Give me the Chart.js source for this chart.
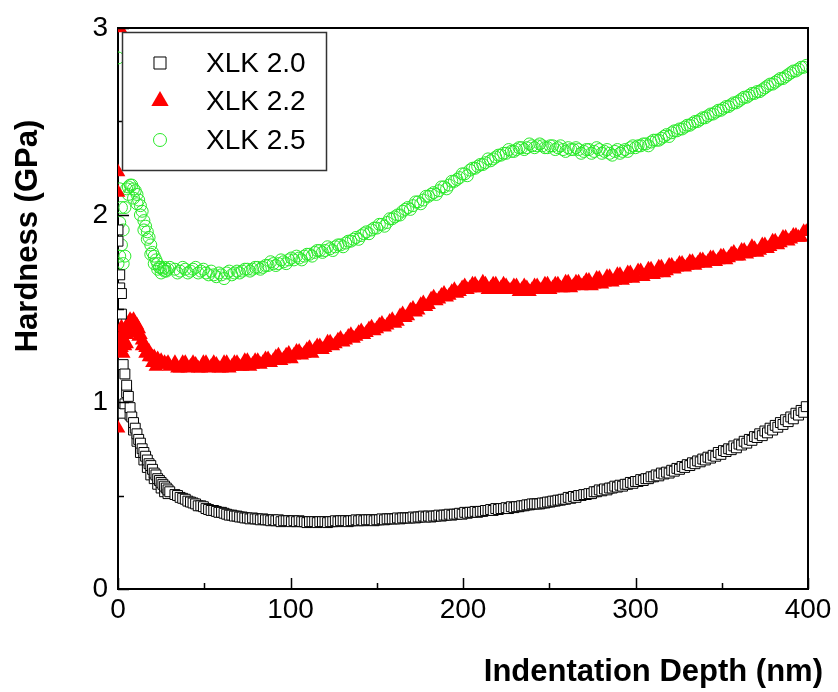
<!DOCTYPE html>
<html>
<head>
<meta charset="utf-8">
<script src="https://cdn.jsdelivr.net/npm/chart.js@4/dist/chart.umd.min.js"></script>
<style>
html,body{margin:0;padding:0;background:#fff;}
canvas{display:block;}
</style>
</head>
<body>
<canvas id="c" width="838" height="692"></canvas>
<script>
// ---- DATA ----
const seriesNames = ["XLK 2.0", "XLK 2.2", "XLK 2.5"];
const xTicks = [0, 100, 200, 300, 400];
const yTicks = [0, 1, 2, 3];

// Indentation depth (nm), main grid
const depth = [
  0,1,2,3,4,5,6,7,8,9,10,11,12,13,14,15,16,17,18,19,20,21,22,23,24,25,26,27,28,29,30,
  33,36,39,42,45,48,51,54,57,60,
  63,66,69,72,75,78,81,84,87,90,
  93,96,99,102,105,108,111,114,117,120,
  123,126,129,132,135,138,141,144,147,150,
  153,156,159,162,165,168,171,174,177,180,
  183,186,189,192,195,198,201,204,207,210,
  213,216,219,222,225,228,231,234,237,240,
  243,246,249,252,255,258,261,264,267,270,
  273,276,279,282,285,288,291,294,297,300,
  303,306,309,312,315,318,321,324,327,330,
  333,336,339,342,345,348,351,354,357,360,
  363,366,369,372,375,378,381,384,387,390,
  393,396,399
];
// Indentation depth (nm), in-between readings
const depthMid = [
  34.5,37.5,40.5,43.5,46.5,49.5,52.5,55.5,58.5,61.5,
  64.5,67.5,70.5,73.5,76.5,79.5,82.5,85.5,88.5,91.5,
  94.5,97.5,100.5,103.5,106.5,109.5,112.5,115.5,118.5,121.5,
  124.5,127.5,130.5,133.5,136.5,139.5,142.5,145.5,148.5,151.5,
  154.5,157.5,160.5,163.5,166.5,169.5,172.5,175.5,178.5,181.5,
  184.5,187.5,190.5,193.5,196.5,199.5,202.5,205.5,208.5,211.5,
  214.5,217.5,220.5,223.5,226.5,229.5,232.5,235.5,238.5,241.5,
  244.5,247.5,250.5,253.5,256.5,259.5,262.5,265.5,268.5,271.5,
  274.5,277.5,280.5,283.5,286.5,289.5,292.5,295.5,298.5,301.5,
  304.5,307.5,310.5,313.5,316.5,319.5,322.5,325.5,328.5,331.5,
  334.5,337.5,340.5,343.5,346.5,349.5,352.5,355.5,358.5,361.5,
  364.5,367.5,370.5,373.5,376.5,379.5,382.5,385.5,388.5,391.5,
  394.5,397.5
];

// Hardness (GPa) on the main grid
const xlk20 = [
  1.86,1.68,1.58,1.20,1.15,1.09,1.03,0.97,0.92,0.89,0.86,0.83,0.80,0.78,0.75,0.73,0.71,0.69,0.67,0.66,0.64,0.62,0.61,0.59,0.58,0.57,0.56,0.55,0.54,0.53,0.52,
  0.505,0.49,0.48,0.465,0.455,0.445,0.43,0.42,0.415,0.41,
  0.40,0.395,0.39,0.385,0.38,0.38,0.375,0.375,0.37,0.37,
  0.37,0.365,0.365,0.365,0.365,0.36,0.36,0.36,0.36,0.36,
  0.36,0.365,0.365,0.365,0.365,0.37,0.37,0.37,0.37,0.37,
  0.375,0.375,0.375,0.38,0.38,0.38,0.385,0.385,0.39,0.39,
  0.39,0.395,0.395,0.40,0.40,0.405,0.41,0.41,0.415,0.415,
  0.42,0.425,0.43,0.43,0.435,0.44,0.44,0.445,0.45,0.455,
  0.455,0.46,0.465,0.47,0.475,0.48,0.49,0.495,0.50,0.505,
  0.51,0.52,0.53,0.535,0.54,0.55,0.555,0.56,0.57,0.575,
  0.585,0.59,0.60,0.61,0.62,0.625,0.635,0.645,0.655,0.665,
  0.675,0.685,0.695,0.705,0.715,0.73,0.74,0.75,0.765,0.775,
  0.79,0.80,0.815,0.83,0.845,0.86,0.875,0.89,0.905,0.92,
  0.94,0.955,0.975
];
const xlk22 = [
  1.30,1.33,1.36,1.31,1.38,1.40,1.42,1.44,1.43,1.44,1.42,1.41,1.39,1.36,1.33,1.31,1.29,1.27,1.27,1.25,1.24,1.24,1.22,1.23,1.21,1.22,1.20,1.21,1.20,1.21,1.19,
  1.21,1.18,1.21,1.19,1.20,1.18,1.21,1.19,1.20,1.18,
  1.21,1.19,1.21,1.19,1.22,1.20,1.22,1.21,1.23,1.22,
  1.25,1.23,1.26,1.25,1.27,1.26,1.29,1.28,1.30,1.29,
  1.32,1.31,1.34,1.33,1.36,1.35,1.38,1.37,1.40,1.39,
  1.42,1.41,1.44,1.43,1.47,1.46,1.50,1.49,1.53,1.52,
  1.56,1.55,1.58,1.57,1.60,1.59,1.62,1.61,1.63,1.61,
  1.63,1.61,1.63,1.61,1.62,1.60,1.62,1.60,1.61,1.60,
  1.62,1.60,1.63,1.61,1.63,1.61,1.64,1.62,1.64,1.63,
  1.65,1.63,1.66,1.64,1.67,1.65,1.68,1.66,1.69,1.67,
  1.70,1.68,1.71,1.69,1.72,1.70,1.73,1.72,1.74,1.73,
  1.75,1.74,1.76,1.75,1.77,1.76,1.78,1.77,1.80,1.78,
  1.81,1.80,1.82,1.81,1.84,1.83,1.86,1.85,1.88,1.87,
  1.89,1.88,1.91
];
const xlk25 = [
  1.74,1.78,1.84,1.92,2.04,2.14,2.15,2.16,2.16,2.14,2.13,2.11,2.08,2.05,2.02,1.97,1.94,1.91,1.88,1.84,1.80,1.78,1.76,1.74,1.72,1.72,1.71,1.72,1.70,1.71,1.72,
  1.71,1.70,1.71,1.70,1.72,1.70,1.69,1.70,1.67,1.68,
  1.69,1.68,1.70,1.70,1.71,1.71,1.72,1.72,1.73,1.74,
  1.74,1.75,1.76,1.76,1.77,1.78,1.79,1.80,1.81,1.81,
  1.82,1.83,1.84,1.85,1.86,1.88,1.89,1.91,1.92,1.93,
  1.95,1.96,1.98,2.00,2.02,2.04,2.05,2.07,2.08,2.10,
  2.12,2.13,2.15,2.16,2.18,2.20,2.22,2.24,2.25,2.27,
  2.28,2.29,2.31,2.32,2.33,2.34,2.35,2.36,2.36,2.37,
  2.37,2.37,2.36,2.37,2.36,2.35,2.36,2.35,2.35,2.34,
  2.35,2.34,2.35,2.34,2.33,2.34,2.33,2.35,2.36,2.36,
  2.37,2.38,2.39,2.40,2.41,2.43,2.44,2.45,2.46,2.48,
  2.49,2.50,2.52,2.53,2.54,2.56,2.57,2.58,2.60,2.61,
  2.63,2.64,2.65,2.66,2.68,2.70,2.71,2.73,2.74,2.76,
  2.77,2.79,2.80
];

// Hardness (GPa) at the in-between depths
const xlk20Mid = [
  0.50,0.485,0.47,0.46,0.445,0.44,0.425,0.42,0.41,0.405,
  0.395,0.39,0.385,0.38,0.375,0.375,0.37,0.37,0.365,0.365,
  0.36,0.365,0.36,0.36,0.36,0.355,0.36,0.355,0.36,0.355,
  0.36,0.36,0.365,0.36,0.365,0.365,0.365,0.37,0.365,0.37,
  0.37,0.375,0.375,0.375,0.38,0.38,0.38,0.385,0.385,0.385,
  0.39,0.39,0.395,0.395,0.40,0.40,0.405,0.41,0.41,0.415,
  0.42,0.42,0.425,0.43,0.43,0.435,0.44,0.445,0.45,0.455,
  0.455,0.46,0.465,0.47,0.475,0.48,0.485,0.49,0.50,0.505,
  0.51,0.52,0.525,0.53,0.54,0.545,0.55,0.56,0.565,0.575,
  0.58,0.59,0.60,0.605,0.615,0.62,0.63,0.64,0.65,0.66,
  0.67,0.68,0.69,0.70,0.71,0.72,0.735,0.745,0.755,0.77,
  0.78,0.795,0.81,0.82,0.835,0.85,0.865,0.88,0.895,0.91,
  0.93,0.945
];
const xlk22Mid = [
  1.18,1.21,1.18,1.21,1.18,1.21,1.18,1.21,1.18,1.21,
  1.18,1.21,1.19,1.22,1.19,1.22,1.20,1.23,1.21,1.24,
  1.22,1.25,1.23,1.27,1.25,1.28,1.26,1.30,1.28,1.32,
  1.30,1.33,1.32,1.35,1.34,1.37,1.36,1.39,1.38,1.41,
  1.40,1.43,1.42,1.46,1.45,1.49,1.48,1.52,1.51,1.55,
  1.54,1.57,1.56,1.59,1.58,1.61,1.60,1.63,1.61,1.64,
  1.60,1.63,1.60,1.63,1.60,1.62,1.59,1.62,1.59,1.62,
  1.60,1.63,1.60,1.63,1.61,1.64,1.61,1.64,1.62,1.65,
  1.62,1.66,1.63,1.67,1.64,1.68,1.65,1.69,1.66,1.70,
  1.67,1.71,1.68,1.72,1.69,1.73,1.71,1.74,1.72,1.75,
  1.73,1.76,1.74,1.77,1.75,1.78,1.76,1.79,1.78,1.81,
  1.79,1.83,1.80,1.84,1.82,1.86,1.84,1.88,1.86,1.89,
  1.88,1.91
];
const xlk25Mid = [
  1.69,1.72,1.69,1.71,1.69,1.71,1.68,1.68,1.69,1.66,
  1.70,1.69,1.69,1.71,1.70,1.72,1.71,1.73,1.75,1.73,
  1.76,1.74,1.77,1.78,1.76,1.79,1.78,1.81,1.80,1.83,
  1.81,1.84,1.83,1.86,1.87,1.87,1.90,1.90,1.93,1.95,
  1.94,1.98,1.99,2.00,2.03,2.03,2.07,2.06,2.10,2.11,
  2.11,2.15,2.14,2.18,2.19,2.22,2.21,2.25,2.26,2.27,
  2.30,2.30,2.32,2.33,2.35,2.34,2.36,2.35,2.38,2.36,
  2.38,2.36,2.37,2.35,2.37,2.34,2.35,2.36,2.33,2.35,
  2.33,2.36,2.33,2.35,2.32,2.35,2.34,2.34,2.37,2.37,
  2.38,2.37,2.40,2.40,2.42,2.42,2.45,2.46,2.47,2.48,
  2.50,2.51,2.52,2.54,2.55,2.56,2.58,2.59,2.60,2.62,
  2.63,2.65,2.66,2.67,2.69,2.70,2.72,2.73,2.75,2.77,
  2.78,2.79
];

// Extra scattered points at the very start of each test
const xlk20StartDepth = [0, 1, 2, 3, 4, 5, 7, 9, 11, 13, 15, 17, 19, 21, 23, 25, 27, 29];
const xlk20StartH     = [1.92, 1.61, 1.47, 0.94, 0.99, 1.05, 0.93, 0.85, 0.79, 0.73, 0.69, 0.65, 0.61, 0.59, 0.56, 0.54, 0.52, 0.51];
const xlk22StartDepth = [0, 0, 0, 1, 2, 3, 4, 5, 1, 2, 3, 5, 6, 10, 12, 14, 16, 18, 20, 22];
const xlk22StartH     = [0.86, 2.23, 2.12, 1.27, 1.29, 1.26, 1.30, 1.31, 3.0, 1.40, 1.34, 1.36, 1.38, 1.37, 1.35, 1.30, 1.26, 1.24, 1.21, 1.19];
const xlk25StartDepth = [0, 1, 2, 3, 4, 1, 6, 9, 11, 13, 15, 17, 19, 21, 23, 25, 27];
const xlk25StartH     = [2.84, 1.96, 2.04, 1.74, 1.78, 2.14, 2.11, 2.09, 2.06, 2.00, 1.92, 1.87, 1.79, 1.74, 1.71, 1.69, 1.70];

// ---- build datasets ----
function pts(xs, ys) { return xs.map((x, i) => ({ x: x, y: ys[i] })); }

const TICK_FONT = { family: "'Liberation Sans Narrow', 'Liberation Sans', Arial, sans-serif", size: 28 };
const GREEN = '#2aea2a';

const framePlugin = {
  id: 'frame',
  beforeDraw(chart) {
    const c = chart.ctx;
    c.save(); c.fillStyle = '#fff'; c.fillRect(0, 0, chart.width, chart.height); c.restore();
  },
  afterDraw(chart) {
    const c = chart.ctx, a = chart.chartArea;
    const xs = chart.scales.x, ys = chart.scales.y;
    c.save();
    c.strokeStyle = '#000';
    c.lineWidth = 2;
    c.beginPath();
    c.moveTo(a.left, a.top); c.lineTo(a.right, a.top); c.lineTo(a.right, a.bottom);
    c.stroke();
    // inward ticks
    c.lineWidth = 1.5;
    c.beginPath();
    for (let v = 0; v <= 400; v += 50) {
      const px = Math.round(xs.getPixelForValue(v)) + 0.5;
      const len = (v % 100 === 0) ? 11 : 6;
      c.moveTo(px, a.bottom); c.lineTo(px, a.bottom - len);
    }
    for (let v = 0; v <= 3.001; v += 0.5) {
      const py = Math.round(ys.getPixelForValue(v)) + 0.5;
      const len = (Math.abs(v - Math.round(v)) < 1e-6) ? 11 : 6;
      c.moveTo(a.left, py); c.lineTo(a.left + len, py);
    }
    c.stroke();

    // axis titles
    c.fillStyle = '#000';
    c.font = "bold 31px 'Liberation Sans', Arial, sans-serif";
    c.textAlign = 'right'; c.textBaseline = 'middle';
    c.fillText('Indentation Depth (nm)', 823, 672);
    c.save();
    c.translate(28, 236);
    c.rotate(-Math.PI / 2);
    c.textAlign = 'center';
    c.fillText('Hardness (GPa)', 0, 0);
    c.restore();

    // legend
    const L = { x: 122, y: 32, w: 204, h: 138 };
    c.fillStyle = '#fff';
    c.fillRect(L.x, L.y, L.w, L.h);
    c.strokeStyle = '#333';
    c.lineWidth = 1.5;
    c.strokeRect(L.x + 0.5, L.y + 0.5, L.w, L.h);
    const rows = [63, 101, 140];
    chart.data.datasets.forEach((ds, i) => {
      const y = rows[i];
      c.save();
      c.fillStyle = ds.legendFill;
      c.strokeStyle = ds.borderColor;
      c.lineWidth = 1;
      Chart.helpers.drawPoint(c, { pointStyle: ds.pointStyle, radius: ds.legendRadius, rotation: 0, borderWidth: ds.borderWidth }, 160, y);
      c.restore();
      c.fillStyle = '#000';
      c.font = "28px 'Liberation Sans', Arial, sans-serif";
      c.textAlign = 'left'; c.textBaseline = 'middle';
      c.fillText(ds.label, 206, y + 1);
    });
    c.restore();
  }
};

new Chart(document.getElementById('c'), {
  type: 'scatter',
  data: {
    datasets: [
      {
        label: seriesNames[0],
        data: pts(xlk20StartDepth, xlk20StartH).concat(pts(depth, xlk20), pts(depthMid, xlk20Mid)).sort((p, q) => p.x - q.x),
        pointStyle: 'rect', pointRadius: 7, borderWidth: 1,
        borderColor: '#000', backgroundColor: '#fff',
        legendFill: '#fff', legendRadius: 8.5, clip: 0
      },
      {
        label: seriesNames[1],
        data: pts(xlk22StartDepth, xlk22StartH).concat(pts(depth, xlk22), pts(depthMid, xlk22Mid)),
        pointStyle: 'triangle', pointRadius: 8.5, borderWidth: 0,
        borderColor: '#ff0000', backgroundColor: '#ff0000',
        legendFill: '#ff0000', legendRadius: 10, clip: 0
      },
      {
        label: seriesNames[2],
        data: pts(xlk25StartDepth, xlk25StartH).concat(pts(depth, xlk25), pts(depthMid, xlk25Mid)),
        pointStyle: 'circle', pointRadius: 6, borderWidth: 1,
        borderColor: GREEN, backgroundColor: 'rgba(0,0,0,0)',
        legendFill: 'rgba(0,0,0,0)', legendRadius: 6.5, clip: 0
      }
    ]
  },
  options: {
    responsive: false,
    animation: false,
    layout: { padding: { left: 0, top: 28, right: 30, bottom: 0 } },
    plugins: { legend: { display: false }, tooltip: { enabled: false } },
    elements: { point: { hoverRadius: 6 } },
    scales: {
      x: {
        type: 'linear', min: 0, max: 400,
        afterBuildTicks: s => { s.ticks = xTicks.map(v => ({ value: v })); },
        ticks: { font: TICK_FONT, color: '#000', padding: 4, maxRotation: 0, autoSkip: false },
        grid: { drawOnChartArea: false, drawTicks: false },
        border: { display: true, color: '#000', width: 2 },
        afterFit: s => { s.height = 692 - 589; }
      },
      y: {
        type: 'linear', min: 0, max: 3,
        afterBuildTicks: s => { s.ticks = yTicks.map(v => ({ value: v })); },
        ticks: { font: TICK_FONT, color: '#000', padding: 10, autoSkip: false },
        grid: { drawOnChartArea: false, drawTicks: false },
        border: { display: true, color: '#000', width: 2 },
        afterFit: s => { s.width = 118; }
      }
    }
  },
  plugins: [framePlugin]
});
</script>
</body>
</html>
